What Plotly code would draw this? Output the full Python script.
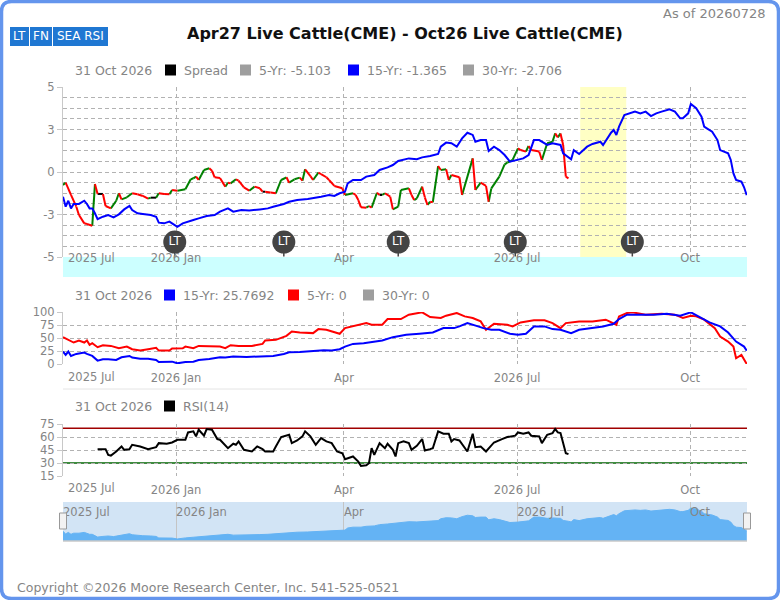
import plotly.graph_objects as go

W, H = 780, 600
FONT = "DejaVu Sans"
GREY = "#858585"
GRID = "#b2b2b2"
DASH = "4px,3px"

# x axis is in trading sessions counted from the left edge (2025 Jul)
tick_days = [42.5, 105.6, 170.7, 235.7]
tick_labels = ["2026 Jan", "Apr", "2026 Jul", "Oct"]
first_label = "2025 Jul"
last_day = 257.1
lt_days = [42, 83, 126, 170, 214]
window_days = [194.4, 211.7]

title = "Apr27 Live Cattle(CME) - Oct26 Live Cattle(CME)"
as_of = "As of 20260728"
last_date = "31 Oct 2026"

y1_ticks = [-5, -2.5, 0, 2.5, 5]
y1_labels = ["-5", "-3", "0", "3", "5"]

spread_day = [0, 1, 3, 5, 6, 8, 9, 11, 12, 13, 15, 16, 18, 20, 21, 22, 24, 26, 28, 30,
              32, 33, 35, 36, 38, 40, 41, 43, 46, 48, 49, 50, 51, 52, 53, 55, 56, 57, 59, 61,
              62, 63, 65, 66, 68, 70, 72, 74, 75, 76, 78, 80, 82, 84, 85, 87, 89, 90, 91, 93,
              94, 96, 97, 99, 100, 102, 105, 106, 109, 110, 111, 112, 114, 115, 116, 118, 119, 120, 121, 123,
              124, 126, 127, 130, 131, 132, 133, 135, 136, 137, 138, 139, 141, 142, 144, 145, 146, 149, 150, 154,
              155, 157, 159, 160, 161, 164, 166, 167, 169, 171, 172, 174, 175, 176, 179, 180, 182, 184, 185, 186,
              187, 188, 189, 190]
spread_val = [-0.76, -0.63, -1.35, -2.04, -2.53, -3.02, -3.06, -3.16, -0.71, -1.29, -1.29, -2.0, -2.14, -1.69, -1.25, -1.61, -1.49, -1.25, -1.31, -1.41,
              -1.57, -1.51, -1.51, -1.25, -1.29, -1.31, -1.06, -1.1, -1.02, -0.43, -0.37, -0.27, -0.47, -0.18, 0.12, 0.22, 0.08, -0.31, -0.35, -0.86,
              -0.63, -0.67, -0.43, -0.51, -0.9, -1.1, -0.86, -0.96, -1.16, -1.16, -1.2, -1.25, -0.47, -0.31, -0.63, -0.43, -0.33, -0.51, 0.16, -0.24,
              -0.47, -0.04, -0.12, -0.31, -0.47, -0.82, -0.96, -1.35, -1.25, -1.35, -1.65, -2.08, -2.1, -2.0, -2.1, -1.22, -1.35, -1.35, -1.25, -1.45,
              -2.2, -2.04, -1.06, -0.96, -1.35, -1.65, -1.55, -0.86, -1.49, -1.94, -1.75, -1.78, 0.35, 0.12, 0.16, -0.47, -0.18, -0.31, -1.35, 0.8,
              -1.06, -0.63, -0.82, -1.75, -0.96, -0.27, 0.45, 0.55, 0.71, 1.39, 1.29, 1.2, 1.53, 1.29, 1.2, 0.71, 1.69, 1.78, 2.27, 2.04,
              2.27, 1.59, -0.27, -0.37]

sea15_day = [0, 1, 2, 3, 4, 6, 8, 9, 10, 11, 12, 13, 15, 17, 19, 21, 23, 25, 26, 28,
             30, 33, 35, 36, 38, 40, 41, 43, 45, 46, 49, 51, 54, 57, 59, 62, 64, 67, 70, 74,
             77, 79, 83, 85, 88, 92, 94, 97, 100, 102, 104, 106, 107, 109, 112, 114, 117, 119, 122, 124,
             126, 128, 130, 133, 135, 138, 141, 142, 144, 146, 148, 150, 152, 154, 155, 157, 159, 160, 162, 164,
             166, 168, 171, 173, 175, 177, 179, 182, 184, 187, 188, 190, 191, 192, 194, 197, 199, 202, 203, 206,
             207, 208, 209, 211, 213, 215, 217, 219, 221, 223, 225, 227, 228, 230, 232, 233, 235, 236, 238, 240,
             241, 242, 244, 246, 247, 250, 251, 252, 253, 255, 256, 257]
sea15_val = [-1.45, -2.04, -1.69, -2.14, -1.88, -1.88, -1.69, -1.88, -2.14, -2.14, -2.43, -2.78, -2.63, -2.53, -2.67, -2.49, -2.2, -2.0, -2.24, -2.43,
             -2.47, -2.53, -2.63, -2.98, -3.02, -2.92, -3.02, -3.22, -3.02, -2.98, -2.82, -2.73, -2.59, -2.53, -2.33, -2.14, -2.33, -2.24, -2.27, -2.2,
             -2.14, -2.04, -1.88, -1.75, -1.65, -1.59, -1.55, -1.45, -1.35, -1.41, -1.25, -1.16, -0.67, -0.47, -0.47, -0.27, -0.18, 0.12, 0.27, 0.41,
             0.65, 0.71, 0.8, 0.75, 0.86, 0.94, 1.06, 1.49, 1.73, 1.69, 1.49, 1.98, 2.31, 2.18, 1.78, 1.88, 1.88, 1.24, 1.49, 1.29,
             1.0, 0.61, 0.71, 0.8, 1.0, 1.88, 1.88, 1.59, 1.69, 1.59, 1.1, 0.9, 0.75, 1.29, 1.06, 1.49, 1.65, 1.78, 1.59, 2.31,
             2.47, 2.18, 2.67, 3.35, 3.45, 3.55, 3.45, 3.55, 3.29, 3.45, 3.55, 3.65, 3.69, 3.55, 3.16, 3.16, 3.45, 4.0, 3.75, 3.25,
             2.67, 2.57, 2.37, 1.88, 1.29, 1.1, 0.71, -0.08, -0.47, -0.57, -0.9, -1.365]

pct15_day = [0, 1, 2, 3, 5, 8, 9, 11, 13, 15, 17, 20, 22, 25, 26, 29, 32, 35, 36, 39,
             41, 43, 46, 49, 51, 55, 59, 61, 64, 69, 74, 79, 83, 85, 89, 94, 98, 101, 104, 106,
             109, 113, 116, 120, 124, 129, 134, 139, 143, 147, 149, 152, 156, 158, 161, 164, 168, 171, 174, 177,
             181, 184, 187, 191, 194, 199, 203, 207, 209, 212, 217, 222, 227, 232, 236, 240, 243, 247, 250, 253,
             256, 257]
pct15_val = [23.9, 17.4, 23.9, 15.5, 19.4, 21.9, 19.4, 15.5, 6.5, 9.0, 9.0, 7.7, 12.9, 15.5, 12.3, 10.3, 10.3, 7.7, 3.9, 3.9,
             4.5, 1.3, 3.9, 4.5, 7.7, 9.7, 12.9, 12.3, 14.2, 13.5, 14.2, 15.5, 19.4, 22.6, 23.2, 24.5, 26.5, 25.8, 28.4, 33.5,
             38.7, 40.0, 42.6, 45.2, 51.6, 56.1, 58.1, 60.6, 69.0, 69.0, 72.3, 78.7, 72.3, 69.0, 65.8, 65.8, 58.1, 56.1, 58.1, 72.3,
             72.3, 67.1, 65.8, 59.4, 65.8, 69.0, 72.3, 77.4, 86.5, 94.8, 94.8, 94.8, 96.8, 92.9, 99.4, 88.4, 80.0, 72.3, 60.6, 43.2,
             33.5, 25.77]

pct5_day = [0, 2, 4, 6, 8, 9, 10, 11, 13, 15, 18, 21, 24, 26, 29, 32, 35, 36, 40, 41,
            45, 46, 49, 51, 56, 59, 61, 63, 66, 71, 75, 76, 80, 84, 86, 89, 94, 96, 99, 104,
            106, 110, 114, 116, 120, 122, 127, 130, 133, 135, 138, 142, 144, 148, 151, 154, 157, 159, 162, 167,
            169, 172, 177, 181, 184, 187, 189, 194, 199, 204, 208, 209, 212, 214, 219, 225, 230, 233, 236, 238,
            241, 245, 247, 250, 252, 253, 255, 256, 257]
pct5_val = [51.6, 46.5, 41.3, 45.2, 41.3, 45.2, 36.8, 40.0, 32.3, 36.1, 34.8, 30.3, 33.5, 28.4, 25.8, 28.4, 31.0, 25.8, 25.8, 29.7,
            30.3, 33.5, 30.3, 34.8, 34.8, 33.5, 30.3, 36.1, 34.8, 34.8, 38.7, 45.2, 46.5, 54.2, 62.6, 60.6, 59.4, 67.1, 65.8, 58.1,
            69.0, 73.5, 78.7, 75.5, 75.5, 86.5, 86.5, 94.8, 98.1, 99.4, 90.3, 88.4, 92.9, 98.1, 91.6, 88.4, 81.9, 65.8, 77.4, 75.5,
            72.3, 80.0, 83.9, 83.9, 78.7, 69.0, 78.7, 81.9, 81.9, 85.2, 75.5, 91.6, 98.1, 99.4, 94.8, 96.8, 94.8, 88.4, 92.9, 91.6,
            85.2, 69.0, 52.9, 43.2, 33.5, 11.0, 17.4, 7.7, 0.0]

rsi_day = [13, 16, 17, 18, 20, 22, 23, 25, 26, 29, 32, 35, 36, 39, 41, 43, 46, 47, 49, 50,
           51, 53, 54, 56, 58, 59, 62, 64, 65, 66, 68, 71, 73, 75, 76, 79, 80, 82, 85, 86,
           88, 90, 91, 93, 95, 97, 99, 101, 103, 105, 106, 109, 111, 112, 114, 115, 116, 117, 119, 121,
           122, 124, 125, 126, 128, 130, 131, 133, 135, 136, 138, 139, 141, 143, 145, 146, 147, 149, 152, 154,
           155, 157, 159, 161, 162, 165, 167, 170, 171, 173, 175, 176, 179, 180, 182, 184, 185, 186, 187, 189,
           190]
rsi_val = [46.0, 46.0, 39.4, 38.6, 43.3, 49.1, 45.2, 46.0, 51.0, 49.1, 46.0, 48.3, 52.9, 52.2, 53.7, 56.8, 56.8, 65.3, 66.5, 60.7,
           68.4, 61.5, 69.2, 68.4, 57.6, 56.8, 47.1, 52.2, 51.0, 54.9, 45.2, 43.3, 49.1, 46.0, 43.3, 43.3, 49.1, 59.9, 62.6, 52.9,
           56.0, 60.7, 66.5, 60.7, 51.0, 58.7, 54.9, 52.9, 43.3, 41.3, 34.4, 37.5, 31.6, 26.6, 27.4, 29.7, 47.1, 39.4, 52.9, 47.1,
           52.2, 45.2, 37.5, 52.9, 54.9, 52.9, 45.2, 49.8, 57.6, 44.4, 46.0, 47.1, 66.5, 63.8, 63.8, 54.9, 57.6, 56.0, 43.3, 63.8,
           48.3, 49.1, 43.3, 51.0, 53.7, 57.6, 59.9, 61.5, 65.3, 63.8, 65.3, 61.5, 60.7, 52.9, 62.6, 64.5, 69.2, 65.3, 64.5, 41.3,
           40.2]

legend1 = [("Spread", "black"), ("5-Yr: -5.103", "#9e9e9e"), ("15-Yr: -1.365", "#0000ff"), ("30-Yr: -2.706", "#9e9e9e")]
legend2 = [("15-Yr: 25.7692", "#0000ff"), ("5-Yr: 0", "#ff0000"), ("30-Yr: 0", "#9e9e9e")]
legend3 = [("RSI(14)", "black")]
buttons = ["LT", "FN", "SEA RSI"]
copyright_text = "Copyright \u00a92026 Moore Research Center, Inc. 541-525-0521"


def px(x):
    return x / W


def py(y):
    return 1 - y / H


def split_moves(days, vals):
    # spread is drawn green when rising, red when falling, black when flat
    seg = {"up": ([], []), "down": ([], []), "flat": ([], [])}
    for i in range(1, len(days)):
        d = vals[i] - vals[i - 1]
        key = "up" if d > 0 else ("down" if d < 0 else "flat")
        xs, ys = seg[key]
        xs += [days[i - 1], days[i], None]
        ys += [vals[i - 1], vals[i], None]
    return seg


def note(x, y, text, size=12.5, color=GREY, xanchor="left", **kw):
    return dict(x=px(x), y=py(y), xref="paper", yref="paper", text=text, showarrow=False,
                xanchor=xanchor, yanchor="middle", font=dict(size=size, color=color, family=FONT), **kw)


fig = go.Figure()

seg = split_moves(spread_day, spread_val)
for key, col in [("flat", "black"), ("up", "#008000"), ("down", "#ff0000")]:
    fig.add_trace(go.Scatter(x=seg[key][0], y=seg[key][1], mode="lines",
                             line=dict(color=col, width=2), xaxis="x", yaxis="y",
                             hoverinfo="skip", connectgaps=False))
fig.add_trace(go.Scatter(x=sea15_day, y=sea15_val, mode="lines", line=dict(color="#0000ff", width=2),
                         xaxis="x", yaxis="y"))
fig.add_trace(go.Scatter(x=lt_days, y=[-4.12] * len(lt_days), mode="markers+text", text=["LT"] * len(lt_days),
                         textposition="middle center", textfont=dict(color="white", size=12, family=FONT),
                         marker=dict(size=23, color="#444444"),
                         error_y=dict(type="data", symmetric=False, array=[0] * len(lt_days),
                                      arrayminus=[0.85] * len(lt_days), width=0, thickness=1.5, color="#444444"),
                         xaxis="x", yaxis="y"))

fig.add_trace(go.Scatter(x=pct5_day, y=pct5_val, mode="lines", line=dict(color="#ff0000", width=2),
                         xaxis="x2", yaxis="y2"))
fig.add_trace(go.Scatter(x=pct15_day, y=pct15_val, mode="lines", line=dict(color="#0000ff", width=2),
                         xaxis="x2", yaxis="y2"))

fig.add_trace(go.Scatter(x=rsi_day, y=rsi_val, mode="lines", line=dict(color="black", width=2),
                         xaxis="x3", yaxis="y3"))

nav_floor = -3.7
fig.add_trace(go.Scatter(x=sea15_day, y=[v - nav_floor for v in sea15_val], mode="lines", fill="tozeroy",
                         fillcolor="#64b3f4", line=dict(color="#64b3f4", width=1), xaxis="x4", yaxis="y4"))

tickfont = dict(size=11.5, color=GREY, family=FONT)
xdom = [px(63), px(747)]
xbase = dict(domain=xdom, range=[0, last_day], tickmode="array", tickvals=tick_days + [last_day],
             ticktext=tick_labels + [""], showgrid=True, gridcolor=GRID, griddash=DASH, zeroline=False,
             showline=False, ticks="outside", ticklen=3, tickcolor="rgba(0,0,0,0)", tickfont=tickfont,
             fixedrange=True)
ybase = dict(showgrid=True, gridcolor=GRID, griddash=DASH, zeroline=False, showline=True, linecolor="#c8c8c8",
             ticks="outside", ticklen=5, tickcolor="#c8c8c8", tickfont=tickfont, fixedrange=True)

fig.update_layout(
    width=W, height=H, margin=dict(l=0, r=0, t=0, b=0, autoexpand=False), showlegend=False,
    paper_bgcolor="white", plot_bgcolor="rgba(0,0,0,0)", font=dict(family=FONT),
    xaxis=dict(xbase, anchor="free", position=py(244)),
    yaxis=dict(ybase, domain=[py(257), py(87)], range=[-5, 5], anchor="x", tickmode="array",
               tickvals=y1_ticks, ticktext=y1_labels,
               minor=dict(tickmode="linear", tick0=-5, dtick=0.625, showgrid=True, gridcolor=GRID,
                          griddash=DASH, ticks="")),
    xaxis2=dict(xbase, anchor="y2"),
    yaxis2=dict(ybase, domain=[py(364), py(312)], range=[0, 100], anchor="x2", dtick=25),
    xaxis3=dict(xbase, anchor="y3"),
    yaxis3=dict(ybase, domain=[py(476), py(424)], range=[15, 75], anchor="x3", dtick=15),
    xaxis4=dict(domain=xdom, range=[0, last_day], anchor="y4", side="top", tickmode="array",
                tickvals=[0] + tick_days, ticktext=[first_label] + tick_labels,
                ticklabelposition="inside right", showgrid=True, gridcolor="#c4c4c4", zeroline=False,
                showline=False, ticks="", tickfont=tickfont, fixedrange=True),
    yaxis4=dict(domain=[py(541), py(502)], range=[0, 9.1], anchor="x4", visible=False, fixedrange=True),
)

shapes = []
# seasonal window
shapes.append(dict(type="rect", xref="x", yref="y domain", x0=window_days[0], x1=window_days[1], y0=0, y1=1,
                   fillcolor="#ffffc4", line=dict(width=0), layer="below"))
# cyan strip under the top panel
shapes.append(dict(type="rect", xref="paper", yref="paper", x0=px(63), x1=px(747), y0=py(277), y1=py(257),
                   fillcolor="#ccffff", line=dict(width=0), layer="below"))
# RSI bands
shapes.append(dict(type="line", xref="x3 domain", yref="y3", x0=0, x1=1, y0=70, y1=70,
                   line=dict(color="#a00000", width=1.5), layer="below"))
shapes.append(dict(type="line", xref="x3 domain", yref="y3", x0=0, x1=1, y0=30, y1=30,
                   line=dict(color="#006400", width=1.5), layer="below"))
# separator
shapes.append(dict(type="line", xref="paper", yref="paper", x0=px(63), x1=px(747), y0=py(389), y1=py(389),
                   line=dict(color="#e4e4e4", width=1)))
# navigator
shapes.append(dict(type="rect", xref="x4 domain", yref="y4 domain", x0=0, x1=1, y0=0, y1=1,
                   fillcolor="#d2e4f5", line=dict(width=0), layer="below"))
shapes.append(dict(type="line", xref="x4 domain", yref="y4 domain", x0=0, x1=1, y0=0, y1=0,
                   line=dict(color="#c8c8c8", width=1.5)))
for hx in (63, 747):
    shapes.append(dict(type="rect", xref="paper", yref="paper", x0=px(hx - 3.5), x1=px(hx + 3.5),
                       y0=py(529), y1=py(513), fillcolor="#f2f2f2", line=dict(color="#999999", width=1)))
# buttons
bx = [(10, 29), (30, 52), (53, 108)]
for (a, b), lab in zip(bx, buttons):
    shapes.append(dict(type="rect", xref="paper", yref="paper", x0=px(a), x1=px(b), y0=py(46), y1=py(27),
                       fillcolor="#1f77d2", line=dict(width=0)))

annotations = []
for (a, b), lab in zip(bx, buttons):
    annotations.append(note((a + b) / 2, 36.5, lab, size=12, color="white", xanchor="center"))

annotations.append(note(405, 34, "<b>" + title + "</b>", size=16, color="#111111", xanchor="center"))
annotations.append(note(768, 13, as_of, size=13, xanchor="right"))
annotations.append(note(15, 587, copyright_text))


def legend_row(y, items, xs):
    annotations.append(note(73, y, last_date))
    for (lab, col), x0 in zip(items, xs):
        shapes.append(dict(type="rect", xref="paper", yref="paper", x0=px(x0), x1=px(x0 + 11),
                           y0=py(y + 5.5), y1=py(y - 5.5), fillcolor=col, line=dict(width=0)))
        annotations.append(note(x0 + 17, y, lab))


legend_row(70, legend1, [165, 240, 348, 463])
legend_row(295, legend2, [164, 288, 363])
legend_row(406, legend3, [164])

# the first month label is pushed inside the plot, as in the source chart
for ly in (258, 377, 488):
    annotations.append(note(91, ly, first_label, size=11.5, xanchor="center"))

# rounded outer frame
x0, x1, yt, yb = px(1.5), px(778.5), py(1.5), py(598.5)
rx, ry = px(10), 10 / H
frame = (f"M {x0 + rx},{yt} L {x1 - rx},{yt} Q {x1},{yt} {x1},{yt - ry} L {x1},{yb + ry} "
         f"Q {x1},{yb} {x1 - rx},{yb} L {x0 + rx},{yb} Q {x0},{yb} {x0},{yb + ry} "
         f"L {x0},{yt - ry} Q {x0},{yt} {x0 + rx},{yt} Z")
shapes.append(dict(type="path", xref="paper", yref="paper", path=frame, line=dict(color="#6495ed", width=3.5)))

fig.update_layout(shapes=shapes, annotations=annotations)
fig.write_html("out.html", config={"displayModeBar": False},
               post_script="document.body.style.margin='0';document.body.style.overflow='hidden';")
